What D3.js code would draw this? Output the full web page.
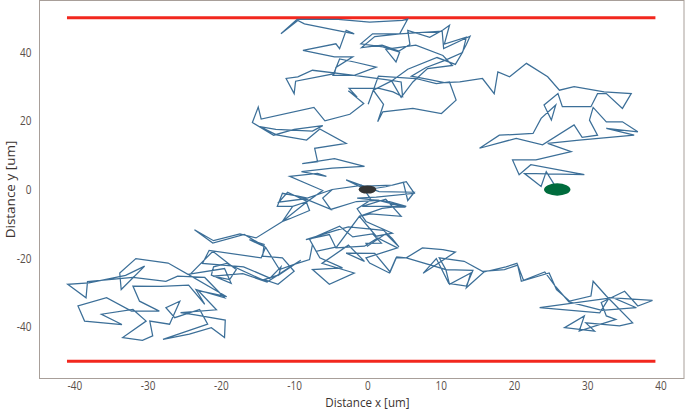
<!DOCTYPE html>
<html>
<head>
<meta charset="utf-8">
<script src="https://cdn.jsdelivr.net/npm/d3@7"></script>
<style>
  body { margin: 0; background: #fff; }
  svg { display: block; }
</style>
</head>
<body>
<svg id="chart" width="685" height="411"></svg>
<script>
// trajectory points [x, y] in um
var track = [
  [0,0],[2.5,0.8],[4.9,2.1],[5.5,-3.2],[6.4,-0.8],[1.6,-0.6],[-2.9,2.8],[-1.1,0.9],[3.4,1.3],[5.3,2.3],
  [6.4,-1.1],[1.2,-2.2],[-1.4,-2.5],[3,-3.5],[5.3,-4.9],[-0.7,-4.9],[2.5,-2.8],[4.6,-7.8],[0.4,-7.1],[-1.1,-7.8],
  [2,-5.5],[3.4,-5.1],[5.2,-5.1],[1.5,-3.2],[-1.5,-3.5],[-5,-5.8],[-6.1,-2.5],[-4.8,0],[-8.2,-2.5],[-9.3,-2],
  [-11.6,-1.1],[-12.3,-4.9],[-10.2,-4.9],[-8.2,-3.5],[-11.6,-9.3],[-15.2,-14.1],[-17.4,-12.9],[-21,-14.9],[-23.6,-11.7],[-21.1,-15.6],
  [-16.8,-13.1],[-15.2,-15.1],[-13.9,-16.8],[-14.5,-19.9],[-21.6,-17.7],[-22.5,-21.5],[-16.9,-22.5],[-13.3,-25.8],[-11.8,-22.5],[-12.1,-24.9],
  [-9.1,-20.6],[-10.9,-23],[-13.7,-26.9],[-19.2,-21.5],[-21,-22.5],[-21.3,-24.9],[-18.6,-27.3],[-19.5,-23],[-24.5,-24.7],[-27.2,-21.4],
  [-31.6,-20.1],[-33.8,-24.3],[-33.6,-29.1],[-30.4,-22.3],[-33,-25],[-38,-27.2],[-40.9,-27.6],[-38.4,-31.5],[-38.2,-26.8],[-32,-25.6],
  [-27.5,-26.7],[-25.9,-25.2],[-22.2,-25.6],[-19.5,-31.5],[-23.4,-29.1],[-22.2,-33.4],[-24.4,-27.8],[-28.2,-28.2],[-32,-28.1],[-31.1,-32.5],
  [-28.4,-35.4],[-32.2,-35.4],[-35.6,-31.5],[-39.5,-33.9],[-38.6,-38.3],[-33.5,-39.3],[-36.3,-36.3],[-32,-34.9],[-30.2,-38.3],[-33.4,-43.1],
  [-30.7,-43.9],[-29.3,-42.6],[-29.7,-38.3],[-27,-39.2],[-25.6,-32.5],[-27.5,-34.4],[-26.3,-37.3],[-22.9,-34.9],[-21.8,-39.2],[-27.9,-43.6],
  [-24.3,-42.1],[-21.3,-40.2],[-19.5,-43.1],[-19.4,-38],[-23.5,-36.5],[-25.5,-35.8],[-20.6,-35],[-23.1,-29.4],[-19.2,-31.2],[-24.3,-24.9],
  [-21.1,-18],[-18.8,-21.8],[-17.9,-23.3],[-18.8,-26.2],[-21.1,-25.2],[-17,-24.5],[-13.7,-26.9],[-12.2,-24.9],[-14.1,-26.2],[-12.2,-27.6],
  [-10,-23.8],[-11.6,-19.9],[-14.3,-19.4],[-14.1,-16],[-16.1,-14.6],[-13.9,-16.8],[-12,-23.3],[-10,-21.8],[-7.9,-20.4],[-7.5,-16],
  [-6.5,-19.9],[-3.4,-22.8],[-7.5,-23.3],[-5.2,-27.6],[-1.8,-24.3],[-6.2,-21.5],[-2.6,-16.2],[-0.4,-20.9],[-2.9,-18.5],[1,-18.6],
  [3.1,-24],[4,-19.6],[5.3,-19.9],[7.5,-17],[10.3,-17.5],[12,-18.2],[7.6,-24.4],[9.4,-20.1],[11.1,-27.3],[13.5,-28.1],
  [14.4,-23.5],[10.7,-23.3],[9.8,-19.9],[13.2,-20.9],[15.7,-23.8],[18.7,-23.3],[20.5,-22],[21,-26.7],[24.8,-24.3],[25.8,-29.1],
  [27.6,-32.5],[30.5,-31],[30.8,-26.7],[32.6,-31],[36.2,-38.8],[34.4,-39.7],[29.8,-38.8],[31,-41.2],[26.9,-40.2],[29.6,-36.8],
  [28.9,-41.2],[33.9,-37.8],[32.6,-36.8],[31.9,-32.9],[35.1,-29.6],[36.9,-33.9],[38.9,-32.3],[33,-31.5],[31.7,-35.9],[23.5,-34.4],
  [33.5,-31.5],[36.7,-34.4],[32,-35.2],[27.5,-32.7],[25.7,-28.3],[24.2,-24],[21.3,-26.4],[20.4,-21.5],[18.9,-22.5],[15.9,-24],
  [13.5,-28.6],[14.1,-24.3],[11.2,-27.6],[10.7,-23.3],[5.3,-19.9],[3.9,-19.9],[3,-24.3],[0.3,-21.4],[-0.2,-19.9],[4.1,-17],
  [1.4,-14.1],[-0.4,-16.5],[-4.3,-17],[-5.2,-13.1],[-8.4,-14.6],[-4.3,-11.9],[-2.6,-10.9],[2.2,-11.9],[3.4,-14.3],[4.3,-16.7],
  [2.5,-12.9],[0,-16.5],[-0.2,-15.7],[1.9,-15.6],[0.7,-12.9],[-2,-13.8],[-3.8,-10.7],[-7.9,-14.5],[-7,-18],[-4.2,-16.7],
  [-1.1,-7.8],[1.2,-13.6],[3.4,-12.7],[-0.2,-9.3],[-1.4,-5.6],[0.5,-3],[-0.8,1.2],[-4.8,0],[-6.1,-2.5],[-5,-5.8],
  [-9.3,-2],[-11.6,-1.1],[-12.3,-4.9],[-10.2,-4.9],[-11.6,-9.3],[-10.6,-8.5],[-7.9,-6.1],[-8.5,-2.7],[-12.1,-3.7],[-10.9,-0.8],
  [-8.2,-3.5],[-6.1,-0.3],[-10.6,3.8],[-6.8,4.7],[-5.6,3.8],[-9,5.2],[-4.8,6.2],[-0.4,6.7],[-4.5,9],[-8.9,7.5],
  [-6.8,8.1],[-7.2,12],[-2.9,13.4],[-6.5,17.6],[-8.3,14.4],[-12.4,15.9],[-14.7,18.3],[-12.5,17.5],[-7.5,17],[-6.1,18.6],
  [-10,17.5],[-12.8,15.8],[-15.7,19.5],[-14.9,24],[-14.5,20.5],[-7.3,23.9],[-5.8,20],[-2.4,21.9],[-0.5,25],[-2.6,28.7],
  [-1.4,26.9],[-2.5,29.4],[1.6,29.4],[3.5,28.4],[4.8,27],[4.6,31.3],[3,31.8],[-1.8,33.2],[-4.7,33.2],[-3.8,38],
  [-1.8,37.1],[1.2,35.6],[-1.8,33.2],[-7.5,34.7],[-9.5,32.8],[-11.1,32.3],[-10,27.9],[-9.8,31.5],[-4.5,33.7],[-4.3,35.5],
  [-2,38.6],[-4.5,38.6],[-6.5,39.5],[-8.8,40.5],[-4.3,42.4],[-3.8,41],[-2.9,46.3],[-1.8,45.3],[-8.6,48.2],[-9.5,49.2],
  [-11.8,45.3],[-9.6,49.5],[-4,49.5],[0.3,48.7],[4.8,49.2],[5.5,49.6],[4.4,45.3],[0.7,45.3],[-0.9,42.4],[2.1,41.5],
  [4.4,40],[3.9,37.1],[2.5,40.8],[6.6,42],[10.3,39],[11.6,36.1],[8.2,35.2],[6.2,31.3],[4.6,26.8],[3.3,31.6],
  [0.8,28.9],[0.1,24.8],[1.5,33],[6.6,32.3],[9.4,30.8],[11.2,31.3],[12.1,26],[10.1,22.1],[6.2,23.6],[2.1,22.6],
  [1.4,19.7],[2.2,24.8],[0.8,28.9],[3.3,31.6],[5.5,35],[9.5,38.4],[12,36.4],[13,40],[13.5,44.3],[10.5,42.3],
  [11.2,47.8],[10.3,46.4],[8.5,44.3],[5.5,46.3],[5.8,42.2],[4.3,40.3],[2,42],[-0.8,41.3],[1,44.5],[4.4,45.3],
  [10.2,46.1],[10.4,41],[14,44.6],[13.5,42.2],[12.9,39.8],[10.5,37.5],[8,35.5],[6,33],[8.5,32],[10.5,31.1],
  [12.6,31.3],[15.7,32.3],[17.3,27.9],[17.8,34.2],[19.4,32.8],[21.7,36.7],[24.6,32.8],[26.2,28.9],[28.2,29.9],[32.3,28.4],
  [36,27.9],[34.8,23.6],[32.6,27.9],[31.4,27.9],[30.5,24.1],[26.6,24.1],[26,27.9],[24.1,24.6],[25.1,20.2],[25.7,24.6],
  [23.7,20.7],[22.6,16.3],[18,15.8],[15.3,12],[20.3,14.9],[23.9,13],[28.2,18.8],[29.3,15.2],[31.4,15.8],[30.3,20.2],
  [30.8,23.9],[32.6,19.7],[34.8,19.7],[36.9,16.8],[32.6,17.8],[36.4,15.8],[28.9,14.4],[24.6,13.4],[27.8,11],[23,8.6],
  [19.8,8.6],[20.7,4.3],[22.3,7.2],[29.6,4.3],[21.4,4.7],[23.7,0.9],[24.4,5.2],[25.5,1.4],[26,0]
];

// channel walls (red lines)
var wallX = [-41, 39.3];
var wallY = [50, -50];

// start / end markers: [x, y, radius]
var startPt = [0, 0, 1.2];
var endPt = [25.9, 0, 1.8];

var xTicks = [-40, -30, -20, -10, 0, 10, 20, 30, 40];
var yTicks = [-40, -20, 0, 20, 40];

var svg = d3.select("#chart");
var plotL = 39.5, plotR = 684, plotT = 0.5, plotB = 378.5;

var x = d3.scaleLinear().domain([-44.75, 43.2]).range([plotL, plotR]);
var y = d3.scaleLinear().domain([-55, 55]).range([plotB, plotT]);

var palette = {
  frame: "#a89f99",
  tick: "#594f49",
  label: "#3b3330",
  wall: "#f2271e",
  track: "#3c6f98",
  start: "#343434",
  end: "#006c3d"
};

// frame
svg.append("rect")
    .attr("x", plotL).attr("y", plotT)
    .attr("width", plotR - plotL).attr("height", plotB - plotT)
    .attr("fill", "none")
    .attr("stroke", palette.frame)
    .attr("stroke-width", 1);

// walls
svg.selectAll(".wall")
    .data(wallY)
  .enter().append("line")
    .attr("class", "wall")
    .attr("x1", x(wallX[0])).attr("x2", x(wallX[1]))
    .attr("y1", function(d){ return y(d); })
    .attr("y2", function(d){ return y(d); })
    .attr("stroke", palette.wall)
    .attr("stroke-width", 3);

// trajectory
var line = d3.line()
    .x(function(d){ return x(d[0]); })
    .y(function(d){ return y(d[1]); });

svg.append("path")
    .datum(track)
    .attr("d", line)
    .attr("fill", "none")
    .attr("stroke", palette.track)
    .attr("stroke-width", 1.25)
    .attr("stroke-linejoin", "miter");

// markers
function marker(p, col){
  svg.append("ellipse")
      .attr("cx", x(p[0])).attr("cy", y(p[1]))
      .attr("rx", x(p[2]) - x(0))
      .attr("ry", y(0) - y(p[2]))
      .attr("fill", col);
}
marker(startPt, palette.start);
marker(endPt, palette.end);

// axes
var squeeze = function(){
  d3.select(this)
    .attr("textLength", this.getComputedTextLength() * 0.8)
    .attr("lengthAdjust", "spacingAndGlyphs");
};
var fmt = function(d){ return String(d); };

var gx = svg.append("g")
    .attr("transform", "translate(0," + plotB + ")")
    .call(d3.axisBottom(x).tickValues(xTicks).tickFormat(fmt).tickSize(0).tickPadding(3));
var gy = svg.append("g")
    .attr("transform", "translate(" + plotL + ",0)")
    .call(d3.axisLeft(y).tickValues(yTicks).tickFormat(fmt).tickSize(0).tickPadding(8));

[gx, gy].forEach(function(g){
  g.select(".domain").remove();
  g.selectAll("text")
      .attr("font-family", "Open Sans")
      .attr("font-size", "12.5px")
      .attr("fill", palette.tick)
      .each(squeeze);
});

svg.append("text")
    .attr("x", x(0)).attr("y", 407)
    .attr("text-anchor", "middle")
    .attr("font-family", "Open Sans")
    .attr("font-size", "13.5px")
    .attr("fill", palette.label)
    .text("Distance x [um]")
    .each(function(){
      d3.select(this).attr("textLength", this.getComputedTextLength() * 0.86)
        .attr("lengthAdjust", "spacingAndGlyphs");
    });

svg.append("text")
    .attr("transform", "translate(14.5," + y(0) + ") rotate(-90)")
    .attr("text-anchor", "middle")
    .attr("font-family", "Open Sans")
    .attr("font-size", "13.5px")
    .attr("fill", palette.label)
    .text("Distance y [um]");
</script>
</body>
</html>
